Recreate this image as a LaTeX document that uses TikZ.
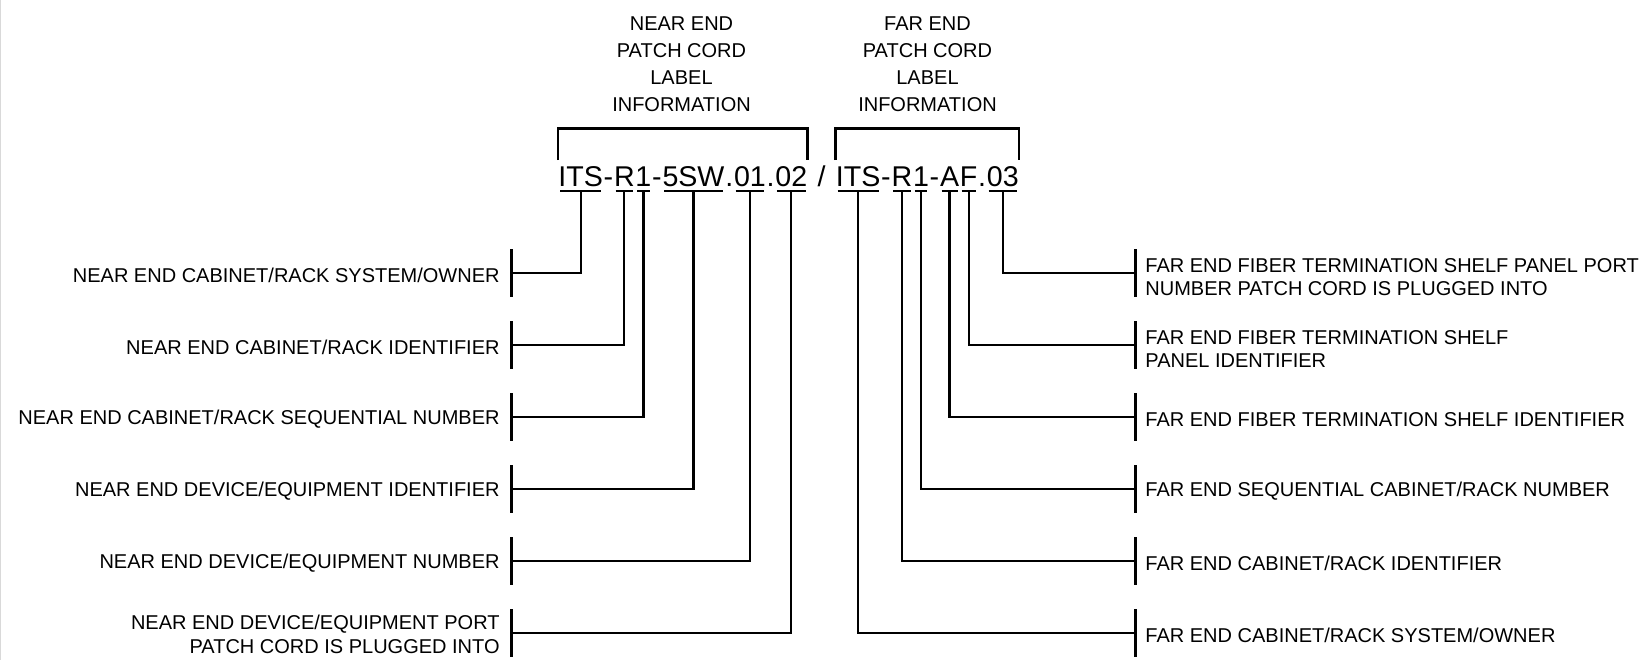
\documentclass[tikz,border=0pt]{standalone}
\usepackage{fontspec}
\setmainfont{Liberation Sans}
\usetikzlibrary{positioning}

\begin{document}
\begin{tikzpicture}[
        x=0.5pt,y=-0.5pt,
        every node/.style={
            inner sep=0pt,
            font=\fontsize{10}{11.65}\selectfont
        },
        head/.style={align=center,anchor=north,font=\fontsize{10}{13.6}\selectfont},
        code/.style={font=\fontsize{14.3}{16}\selectfont,text height=10.3pt,text depth=2.35pt},
        uline/.style={line width=1pt,shorten <=1pt,shorten >=1pt},
        lead/.style={line width=1.15pt},
        bar/.style={line width=1.5pt},
        brace/.style={line width=1.1pt}
    ]
    \useasboundingbox (0,0) rectangle (1650,660);
    \draw[gray!30,line width=0.5pt] (0.5,0) -- (0.5,660);
% Label string
    \node[code,anchor=base west] (nits) at (558,186) {ITS};
    \node[code,right=0pt of nits] (nd1) {-};
    \node[code,right=0pt of nd1] (nrk) {R};
    \node[code,right=0pt of nrk] (nseq) {1};
    \node[code,right=0pt of nseq] (nd2) {-};
    \node[code,right=0pt of nd2] (ndev) {5SW};
    \node[code,right=0pt of ndev] (np1) {.};
    \node[code,right=0pt of np1] (nnum) {01};
    \node[code,right=0pt of nnum] (np2) {.};
    \node[code,right=0pt of np2] (nport) {02};
    \node[code,right=0pt of nport,inner xsep=4.8pt] (slash) {/};
    \node[code,right=0pt of slash] (fits) {ITS};
    \node[code,right=0pt of fits] (fd1) {-};
    \node[code,right=0pt of fd1] (frk) {R};
    \node[code,right=0pt of frk] (fseq) {1};
    \node[code,right=0pt of fseq] (fd2) {-};
    \node[code,right=0pt of fd2] (fshelf) {A};
    \node[code,right=0pt of fshelf] (fpanel) {F};
    \node[code,right=0pt of fpanel] (fp1) {.};
    \node[code,right=0pt of fp1] (fport) {03};
\foreach\seg in {nits,nrk,nseq,ndev,nnum,nport,fits,frk,fseq,fshelf,fpanel,fport}{
    \draw[uline] (\seg.south west) -- (\seg.south east);
}
% Brackets
    \draw[brace] ([yshift=2.4pt]nits.north west) -- ([yshift=18.25pt]nits.north west)
        -| ([yshift=2.4pt]nport.north east);
    \draw[brace] ([yshift=2.4pt]fits.north west) -- ([yshift=18.25pt]fits.north west)
        -| ([yshift=2.4pt]fport.north east);
    \node[head] (nhead) at (681.5,16) {NEAR END\\PATCH CORD\\LABEL\\INFORMATION};
    \node[head] (fhead) at (927.5,16) {FAR END\\PATCH CORD\\LABEL\\INFORMATION};
% Leaders
\foreach\seg [count=\i] in {nits,nrk,nseq,ndev,nnum,nport}{
    \coordinate (nl\i) at (511,201.3+72*\i);
    \draw[bar] ([yshift=12pt]nl\i) -- ([yshift=-12pt]nl\i);
    \draw[lead] (\seg.south) |- (nl\i);
}
\foreach\seg [count=\i] in {fport,fpanel,fshelf,fseq,frk,fits}{
    \coordinate (fl\i) at (1135,201.3+72*\i);
    \draw[bar] ([yshift=12pt]fl\i) -- ([yshift=-12pt]fl\i);
    \draw[lead] (\seg.south) |- (fl\i);
}
% Descriptions
    \node[left=5.5pt of nl1,yshift=-1pt,align=right] (ntx1) {NEAR END CABINET/RACK SYSTEM/OWNER};
    \node[left=5.5pt of nl2,yshift=-1pt,align=right] (ntx2) {NEAR END CABINET/RACK IDENTIFIER};
    \node[left=5.5pt of nl3,yshift=-1pt,align=right] (ntx3) {NEAR END CABINET/RACK SEQUENTIAL NUMBER};
    \node[left=5.5pt of nl4,yshift=-1pt,align=right] (ntx4) {NEAR END DEVICE/EQUIPMENT IDENTIFIER};
    \node[left=5.5pt of nl5,yshift=-1pt,align=right] (ntx5) {NEAR END DEVICE/EQUIPMENT NUMBER};
    \node[left=5.5pt of nl6,yshift=-0.5pt,align=right] (ntx6) {NEAR END DEVICE/EQUIPMENT PORT\\PATCH CORD IS PLUGGED INTO};
    \node[right=5pt of fl1,yshift=-2pt,align=left] (ftx1) {FAR END FIBER TERMINATION SHELF PANEL PORT\\NUMBER PATCH CORD IS PLUGGED INTO};
    \node[right=5pt of fl2,yshift=-2pt,align=left] (ftx2) {FAR END FIBER TERMINATION SHELF\\PANEL IDENTIFIER};
    \node[right=5pt of fl3,yshift=-1pt,align=left] (ftx3) {FAR END FIBER TERMINATION SHELF IDENTIFIER};
    \node[right=5pt of fl4,yshift=-1pt,align=left] (ftx4) {FAR END SEQUENTIAL CABINET/RACK NUMBER};
    \node[right=5pt of fl5,yshift=-1pt,align=left] (ftx5) {FAR END CABINET/RACK IDENTIFIER};
    \node[right=5pt of fl6,yshift=-1pt,align=left] (ftx6) {FAR END CABINET/RACK SYSTEM/OWNER};
\end{tikzpicture}
\end{document}
